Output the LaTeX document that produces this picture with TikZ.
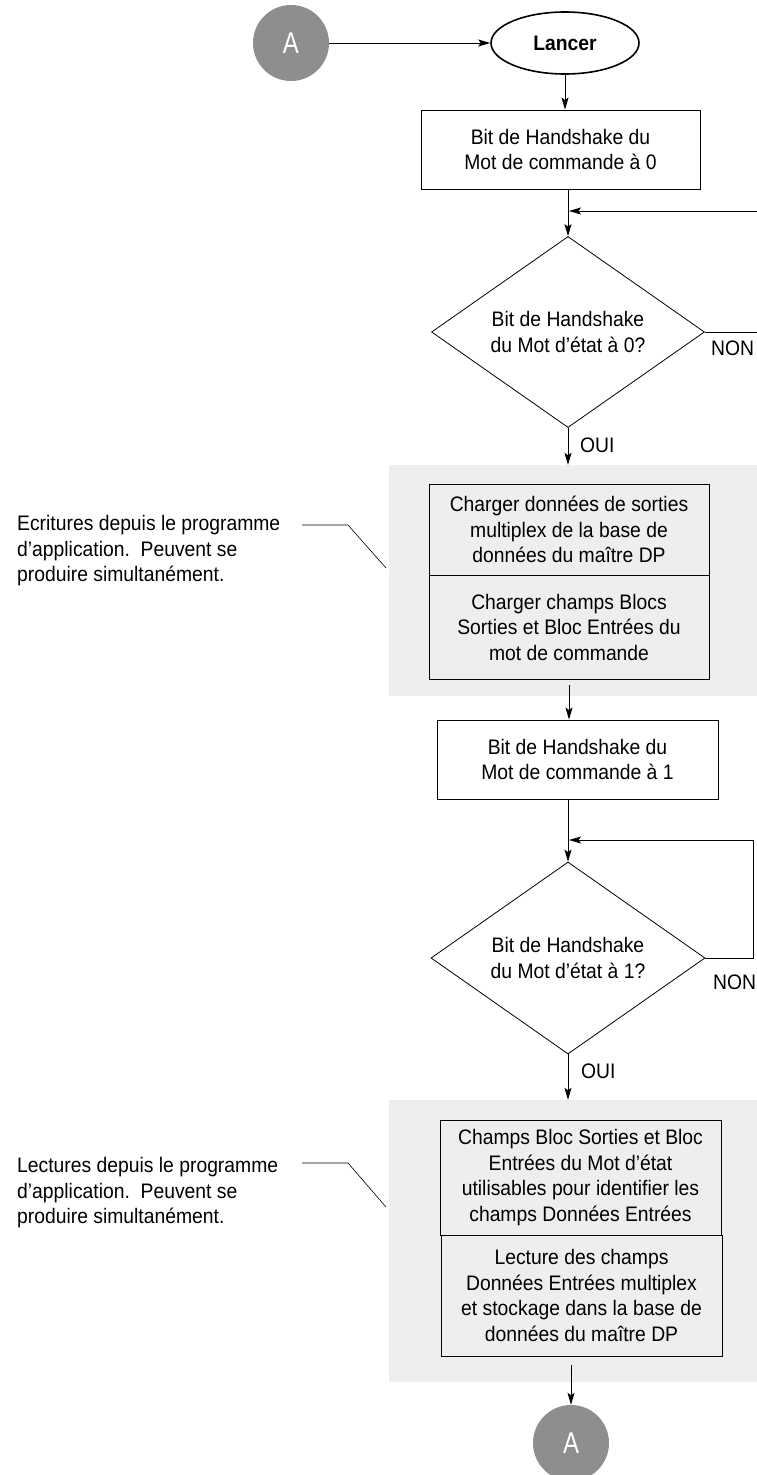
\documentclass[tikz,border=0pt]{standalone}
\usepackage{fontspec}
\setmainfont{Liberation Sans}[FakeStretch=0.92]
\newfontfamily\circfont{Liberation Sans}[FakeStretch=0.8]
\usetikzlibrary{shapes.geometric,arrows.meta}
\definecolor{circgray}{HTML}{8E8E90}
\definecolor{regiongray}{HTML}{EEEEEF}
\begin{document}
\begin{tikzpicture}[x=1pt,y=-1pt,
  every node/.style={font=\fontsize{21}{25.5}\selectfont},
  region/.style={fill=regiongray, draw=none, inner sep=0pt},
  stepbox/.style={draw, line width=0.9pt, align=center, inner sep=0pt},
  gbox/.style={stepbox, fill=regiongray},
  decision/.style={diamond, draw, line width=0.8pt, aspect=1.43, align=center, inner sep=0pt},
  startnode/.style={ellipse, draw, line width=1.6pt, minimum width=148pt, minimum height=62pt, font=\bfseries\fontsize{21}{25}\selectfont},
  conn/.style={circle, fill=circgray, minimum size=76pt, inner sep=0pt, text=white, font=\circfont\fontsize{30}{30}\selectfont},
  note/.style={align=left, inner sep=0pt},
  tag/.style={inner sep=0pt},
  arr/.style={draw, line width=0.9pt, -{Stealth[length=12pt,width=7pt,inset=2.5pt]}},
  pointer/.style={draw, line width=0.6pt}
]
\useasboundingbox (0,0) rectangle (757,1475);
\clip (0,0) rectangle (757,1475);

% grey regions
\node[region, minimum width=368pt, minimum height=231pt] (g1) at (573,580.5) {};
\node[region, minimum width=368pt, minimum height=282pt] (g2) at (573,1241) {};

% top
\node[conn] (a1) at (291,43) {A};
\node[startnode] (st) at (565,43) {Lancer};
\draw[arr] (a1) -- (st);

\node[stepbox, minimum width=279pt, minimum height=79pt] (b1) at (560.5,149.5) {Bit de Handshake du\\Mot de commande à 0};
\draw[arr] (st.south) -- (st.south |- b1.north);

\node[decision, minimum width=273pt, minimum height=191pt] (d1) at (568,332) {Bit de Handshake\\du Mot d’état à 0?};
\draw[arr] (b1.south -| d1.north) -- (d1.north);

\coordinate (r1) at (770,332);
\coordinate (j1) at (568,211);
\draw[arr, shorten >=1pt] (d1.east) -- (r1) |- (j1);
\node[tag, anchor=north west] (n1) at (711,341) {NON};

\node[tag, anchor=west] (o1) at (580,445) {OUI};
\draw[arr] (d1.south) -- (d1.south |- g1.north);

% first grey block
\node[gbox, minimum width=280pt, minimum height=91pt] (b2) at (569,529.5) {Charger données de sorties\\multiplex de la base de\\données du maître DP};
\node[gbox, minimum width=280pt, minimum height=104pt] (b2b) at (569,627) {Charger champs Blocs\\Sorties et Bloc Entrées du\\mot de commande};

\node[note, anchor=west] (l1) at (17,551) {Ecritures depuis le programme\\d’application.\ \ Peuvent se\\produire simultanément.};
\coordinate (p1a) at (302,525);
\coordinate (p1b) at (348,525);
\coordinate (p1c) at (386,568);
\draw[pointer] (p1a) -- (p1b) -- (p1c);

\node[stepbox, minimum width=281pt, minimum height=79pt] (b3) at (577.5,759.5) {Bit de Handshake du\\Mot de commande à 1};
\draw[arr, shorten <=6pt] (b2b.south) -- (b2b.south |- b3.north);

\node[decision, minimum width=274pt, minimum height=192pt] (d2) at (568,958) {Bit de Handshake\\du Mot d’état à 1?};
\draw[arr] (b3.south -| d2.north) -- (d2.north);

\coordinate (r2) at (753,958);
\coordinate (j2) at (568,840);
\draw[arr, shorten >=1pt] (d2.east) -- (r2) |- (j2);
\node[tag, anchor=north west] (n2) at (713,975) {NON};

\node[tag, anchor=west] (o2) at (581,1071) {OUI};
\draw[arr] (d2.south) -- (d2.south |- g2.north);

% second grey block
\node[gbox, minimum width=281pt, minimum height=115pt] (b4) at (580.5,1177.5) {Champs Bloc Sorties et Bloc\\Entrées du Mot d’état\\utilisables pour identifier les\\champs Données Entrées};
\node[gbox, minimum width=281pt, minimum height=121pt] (b4b) at (581.5,1295.5) {Lecture des champs\\Données Entrées multiplex\\et stockage dans la base de\\données du maître DP};

\node[note, anchor=west] (l2) at (17,1193) {Lectures depuis le programme\\d’application.\ \ Peuvent se\\produire simultanément.};
\coordinate (p2a) at (302,1163);
\coordinate (p2b) at (348,1163);
\coordinate (p2c) at (386,1207);
\draw[pointer] (p2a) -- (p2b) -- (p2c);

\node[conn] (a2) at (571,1443) {A};
\draw[arr, shorten <=9pt] (a2.north |- b4b.south) -- (a2.north);
\end{tikzpicture}
\end{document}
